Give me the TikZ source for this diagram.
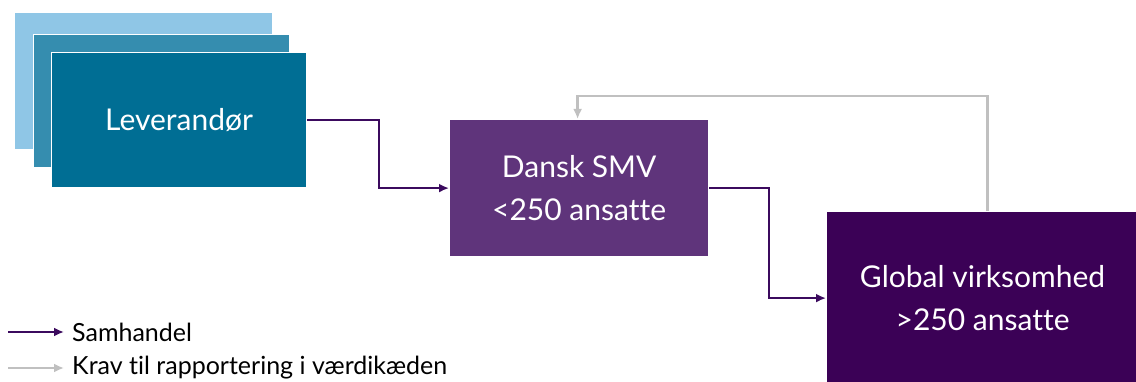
\documentclass[tikz,border=0pt]{standalone}
\usepackage{fontspec}
\setmainfont{Lato}[RawFeature={-liga}]
\usetikzlibrary{arrows.meta}
\definecolor{lb1}{HTML}{8FC6E6}
\definecolor{lb2}{HTML}{358DAF}
\definecolor{lb3}{HTML}{006E94}
\definecolor{smv}{HTML}{5F347B}
\definecolor{glob}{HTML}{3B0156}
\definecolor{trade}{HTML}{3B0A5E}
\definecolor{req}{HTML}{C0C0C0}
\tikzset{
  box/.style={draw=white, line width=1.2pt, anchor=north west, inner sep=0pt, text=white, align=center, font=\fontsize{30}{43}\selectfont},
  tradearrow/.style={draw=trade, line width=2.5pt, -{Latex[length=10pt,width=9pt]}},
  reqarrow/.style={draw=req, line width=2.5pt, -{Latex[length=10pt,width=9pt]}},
  legendtext/.style={anchor=west, inner sep=0pt, font=\fontsize{25}{28}\selectfont}
}
\begin{document}
\begin{tikzpicture}[x=1pt,y=-1pt]
\useasboundingbox (0,0) rectangle (1136,382);
\node[box, fill=lb1, minimum width=258pt, minimum height=137pt] (b1) at (14,12) {};
\node[box, fill=lb2, minimum width=256pt, minimum height=133pt] (b2) at (33,34) {};
\node[box, fill=lb3, minimum width=255pt, minimum height=135pt] (lev) at (51,52) {Leverandør};
\node[box, fill=smv, minimum width=259pt, minimum height=137pt] (dsmv) at (449,119) {Dansk SMV\\<250 ansatte};
\node[box, fill=glob, minimum width=312pt, minimum height=173pt] (glb) at (826,211) {Global virksomhed\\>250 ansatte};
\draw[tradearrow] (lev.east) -- ++(72,0) |- (dsmv.west);
\draw[tradearrow] (dsmv.east) -- ++(60,0) |- (glb.west);
\draw[reqarrow] ([xshift=5pt]glb.north) -- ++(0,-115) -| ([xshift=-1.5pt]dsmv.north);
\coordinate (l1a) at (8,332);
\coordinate (l1b) at (64,332);
\coordinate (l2a) at (8,368);
\coordinate (l2b) at (64,368);
\draw[tradearrow] (l1a) -- (l1b);
\draw[reqarrow] (l2a) -- (l2b);
\node[legendtext] (t1) at (72,332) {Samhandel};
\node[legendtext] (t2) at (72,368) {Krav til rapportering i værdikæden};
\end{tikzpicture}
\end{document}
